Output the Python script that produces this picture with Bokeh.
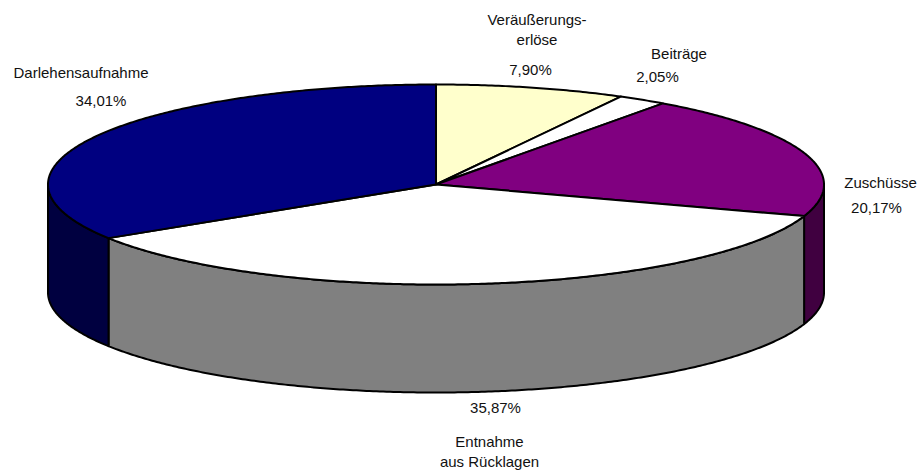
import numpy as np
from bokeh.plotting import figure
from bokeh.models import Range1d
from bokeh.core.properties import value
from bokeh.embed import file_html
from bokeh.resources import INLINE

categories = ["Veräußerungserlöse", "Beiträge", "Zuschüsse", "Entnahme aus Rücklagen", "Darlehensaufnahme"]
shares = [7.90, 2.05, 20.17, 35.87, 34.01]
share_labels = ["7,90%", "2,05%", "20,17%", "35,87%", "34,01%"]
top_colors = ["#FFFFCC", "#FFFFFF", "#800080", "#FFFFFF", "#000080"]
wall_colors = ["#808060", "#808080", "#400040", "#808080", "#000040"]

label_x = [536.5, 678.5, 880, 489, 80.5]
label_lines = [["Veräußerungs-", "erlöse"], ["Beiträge"], ["Zuschüsse"], ["Entnahme", "aus Rücklagen"], ["Darlehensaufnahme"]]
label_ys = [[19, 39], [53], [182], [441, 461], [72]]
pct_x = [530, 657, 876, 495, 100.5]
pct_y = [69, 76, 207, 407, 100]

CX, CY, RX, RY, DEPTH = 435.5, 184, 388, 100, 108


def rim(a0, a1, drop=0.0):
    t = np.radians(np.linspace(a0, a1, max(int(abs(a1 - a0) * 2), 2)))
    return CX + RX * np.sin(t), CY - RY * np.cos(t) + drop


p = figure(width=920, height=473, output_backend="svg", toolbar_location=None,
           x_range=Range1d(0, 920), y_range=Range1d(473, 0), min_border=0)
p.axis.visible = False
p.grid.visible = False
p.outline_line_color = None

edges = np.concatenate([[0], np.cumsum(shares)]) * 3.6 * 100 / np.sum(shares)

LW = 2
for i in range(len(shares)):
    a0, a1 = max(edges[i], 90), min(edges[i + 1], 270)
    if a1 <= a0:
        continue
    xt, yt = rim(a0, a1)
    xb, yb = rim(a0, a1, DEPTH)
    p.patch(np.concatenate([xt, xb[::-1]]), np.concatenate([yt, yb[::-1]]),
            fill_color=wall_colors[i], line_color="#000000", line_width=LW, line_join="round")

for i in range(len(shares)):
    xt, yt = rim(edges[i], edges[i + 1])
    p.patch(np.concatenate([[CX], xt]), np.concatenate([[CY], yt]),
            fill_color=top_colors[i], line_color="#000000", line_width=LW, line_join="round")

font = value("Liberation Sans")
kw = dict(text_font=font, text_font_size="15px", text_color="#111111",
          text_align="center", text_baseline="middle")
for i in range(len(categories)):
    for line, y in zip(label_lines[i], label_ys[i]):
        p.text([label_x[i]], [y], text=[line], **kw)
    p.text([pct_x[i]], [pct_y[i]], text=[share_labels[i]], **kw)

open("out.html", "w").write(file_html(p, INLINE))
